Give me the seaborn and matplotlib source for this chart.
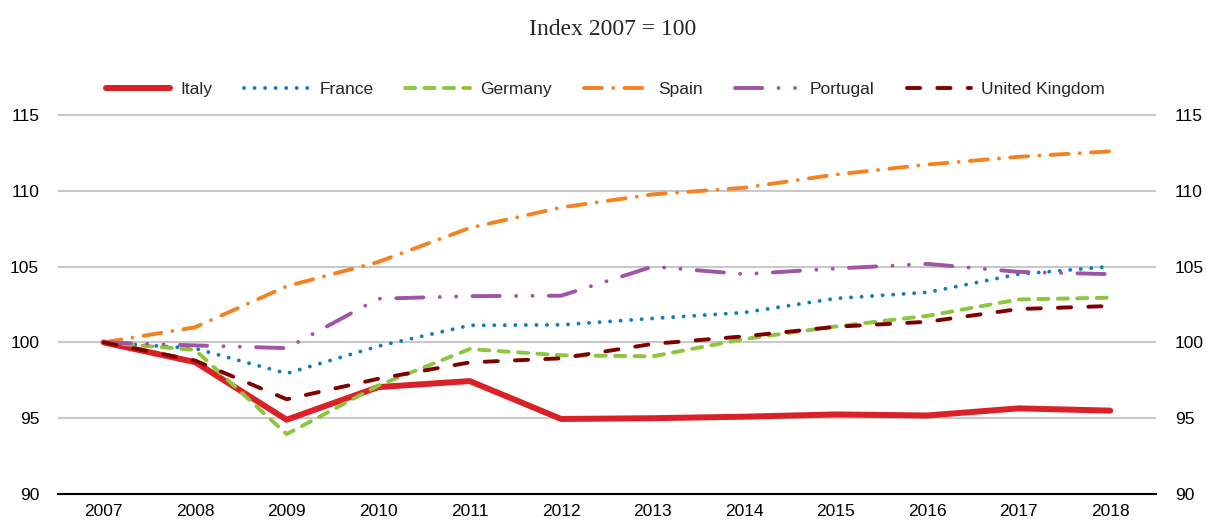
import matplotlib
matplotlib.use("Agg")
import matplotlib.pyplot as plt
import seaborn as sns
import pandas as pd

years = [2007, 2008, 2009, 2010, 2011, 2012, 2013, 2014, 2015, 2016, 2017, 2018]
italy = [100, 98.7, 94.9, 97.05, 97.45, 94.95, 95.0, 95.1, 95.25, 95.18, 95.65, 95.5]
france = [100, 99.6, 97.95, 99.75, 101.12, 101.16, 101.58, 101.97, 102.9, 103.3, 104.5, 105.0]
germany = [100, 99.5, 93.95, 97.15, 99.56, 99.15, 99.08, 100.22, 101.05, 101.75, 102.83, 102.95]
spain = [100, 101.0, 103.7, 105.3, 107.55, 108.9, 109.76, 110.2, 111.07, 111.73, 112.24, 112.6]
portugal = [100, 99.8, 99.62, 102.88, 103.05, 103.08, 105.0, 104.5, 104.87, 105.18, 104.65, 104.5]
uk = [100, 98.8, 96.25, 97.6, 98.68, 98.95, 99.9, 100.4, 101.03, 101.36, 102.2, 102.4]

names = ["Italy", "France", "Germany", "Spain", "Portugal", "United Kingdom"]
series = [italy, france, germany, spain, portugal, uk]
colors = ["#DA2128", "#0E7CC3", "#8CC63F", "#F58220", "#A154A5", "#800000"]
styles = [
    "-",
    (0, (0.01, 2.7)),
    (0, (2.6, 2.4)),
    (0, (4.6, 2.9, 0.01, 2.9)),
    (0, (7, 4.2, 0.01, 4.2, 0.01, 4.2)),
    (0, (3.4, 4.4)),
]
widths = [4.3, 2.8, 2.8, 2.8, 2.8, 2.8]

df = pd.DataFrame({"year": years * len(names),
                   "value": sum(series, []),
                   "country": [n for n in names for _ in years]})

sns.set_theme(style="white")
plt.rcParams["font.family"] = ["Liberation Sans", "DejaVu Sans"]

fig = plt.figure(figsize=(12.06, 5.22), dpi=100)
ax = fig.add_axes([0.048, 0.0536, 0.9105, 0.7349])

for name, col, ls, lw in zip(names, colors, styles, widths):
    sub = df[df["country"] == name]
    sns.lineplot(data=sub, x="year", y="value", ax=ax, color=col, linestyle=ls,
                 linewidth=lw, label=name, dash_capstyle="round",
                 solid_capstyle="round", zorder=3)

ax.set_xlim(2006.5, 2018.5)
ax.set_ylim(90, 115.3)
ax.set_yticks([90, 95, 100, 105, 110, 115])
ax.set_xticks(years)
ax.set_xticks([y - 0.5 for y in years] + [2018.5], minor=True)
ax.set_xticklabels([str(y) for y in years])
ax.tick_params(axis="x", which="major", length=0, pad=7, labelsize=12.5, colors="black")
ax.tick_params(axis="x", which="minor", length=7, width=1.2, direction="in", color="black")
ax.tick_params(axis="y", length=0, labelsize=12.5, labelleft=True, labelright=True,
               pad=13.5, colors="black")
ax.set_xlabel("")
ax.set_ylabel("")
ax.yaxis.grid(True, color="#c8c8c8", linewidth=1.5, zorder=0)
ax.xaxis.grid(False)
for s in ["left", "right", "top"]:
    ax.spines[s].set_visible(False)
ax.spines["bottom"].set_color("black")
ax.spines["bottom"].set_linewidth(1.5)
ax.set_axisbelow(True)

handles, labels = ax.get_legend_handles_labels()
if ax.legend_:
    ax.legend_.remove()
fig.legend(handles, labels, loc="center", bbox_to_anchor=(0.502, 0.828), ncol=6,
           frameon=False, fontsize=12.5, handlelength=3.7, handletextpad=0.6,
           columnspacing=1.85)

fig.text(0.508, 0.944, "Index 2007 = 100", ha="center", va="center",
         fontsize=17, family=["Liberation Serif", "DejaVu Serif"])

fig.savefig("out.png", dpi=100)
